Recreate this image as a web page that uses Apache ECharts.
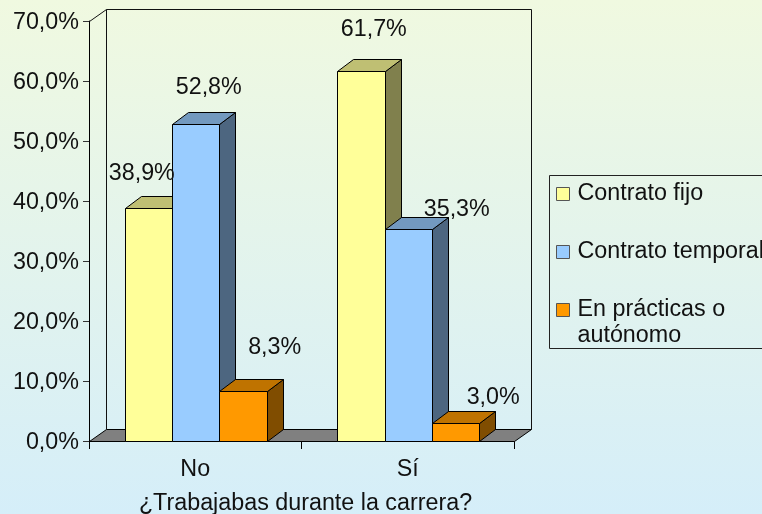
<!DOCTYPE html>
<html><head><meta charset="utf-8">
<style>html,body{margin:0;padding:0;overflow:hidden}#c{width:762px;height:514px}</style>
<script src="https://cdn.jsdelivr.net/npm/echarts@6/dist/echarts.min.js"></script>
</head><body><div id="c"></div>
<script>
const categories = ['No', 'Sí'];
const seriesNames = ['Contrato fijo', 'Contrato temporal', 'En prácticas o autónomo'];
const contratoFijo = [38.9, 61.7];
const contratoTemporal = [52.8, 35.3];
const enPracticas = [8.3, 3.0];
const yTicksMax = 70;
const axisTitle = '¿Trabajabas durante la carrera?';

// layout / style (not data)
const FONT = '"Liberation Sans", Arial, sans-serif';
const FS = 23.3;
const DX = 16, DY = 12;
const GROUP = 0.67;
const faces = [
  {front:'#FFFF99', top:'#BFBF73', side:'#80804D'},
  {front:'#99CCFF', top:'#7399BF', side:'#4D6680'},
  {front:'#FF9900', top:'#BF7300', side:'#804D00'}
];
const labelNudge = [
  [[-6.5,-34],[13,-36.5],[31.5,-44]],
  [[13,-41],[48.5,-20],[37.5,-25.5]]
];
const pct = v => v.toFixed(1).replace('.', ',') + '%';
const snap = v => Math.round(v) + 0.5;
const allValues = [contratoFijo, contratoTemporal, enPracticas];

function barBox(api, cat, val, s){
  const p = api.coord([cat, val]);
  const base = api.coord([cat, 0]);
  const band = api.size([1, 0])[0];
  const w = band * GROUP / 3;
  const x0 = p[0] + 0.5 - band * GROUP / 2 + s * w;
  return {l:snap(x0), r:snap(x0 + w), t:snap(p[1]), b:snap(base[1]), cx:x0 + w/2, top:p[1]};
}
function barRender(s){
  return function(params, api){
    const b = barBox(api, api.value(0), api.value(1), s);
    const line = {stroke:'#000', lineWidth:1};
    const f = faces[s];
    return {type:'group', children:[
      {type:'polygon', shape:{points:[[b.r,b.b],[b.r+DX,b.b-DY],[b.r+DX,b.t-DY],[b.r,b.t]]}, style:Object.assign({fill:f.side}, line)},
      {type:'polygon', shape:{points:[[b.l,b.t],[b.l+DX,b.t-DY],[b.r+DX,b.t-DY],[b.r,b.t]]}, style:Object.assign({fill:f.top}, line)},
      {type:'polygon', shape:{points:[[b.l,b.t],[b.r,b.t],[b.r,b.b],[b.l,b.b]]}, style:Object.assign({fill:f.front}, line)}
    ]};
  };
}
function wallRender(params, api){
  const g = params.coordSys;
  const l = snap(g.x), r = snap(g.x + g.width), t = snap(g.y), b = snap(g.y + g.height);
  const line = {stroke:'#111', lineWidth:1, fill:null};
  return {type:'group', children:[
    {type:'polygon', shape:{points:[[l,b],[l+DX+1,b-DY],[r+DX+1,b-DY],[r,b]]}, style:{fill:'#808080', stroke:'#000', lineWidth:1}},
    {type:'polyline', shape:{points:[[l,t],[l+DX+1,t-DY],[r+DX+1,t-DY],[r+DX+1,b-DY]]}, style:line},
    {type:'line', shape:{x1:l+DX+1,y1:t-DY,x2:l+DX+1,y2:b-DY}, style:line}
  ]};
}
function labelRender(params, api){
  const cat = api.value(0), val = api.value(1), s = api.value(2);
  const b = barBox(api, cat, val, s);
  const n = labelNudge[cat][s];
  return {type:'text', style:{x:b.cx + n[0], y:b.top + n[1], text:pct(val), fill:'#111',
    font:FS + 'px ' + FONT, textAlign:'center', textVerticalAlign:'middle'}};
}
const barSeries = allValues.map((vals, s) => ({
  type:'custom', name:seriesNames[s], coordinateSystem:'cartesian2d', renderItem:barRender(s),
  encode:{x:0, y:1}, itemStyle:{color:faces[s].front}, silent:true,
  data:vals.map((v, c) => [c, v])
}));
const labelData = [];
allValues.forEach((vals, s) => vals.forEach((v, c) => labelData.push([c, v, s])));

const chart = echarts.init(document.getElementById('c'), null, {renderer:'canvas'});
chart.setOption({
  animation:false,
  backgroundColor:{type:'linear', x:0, y:0, x2:0, y2:1, colorStops:[
    {offset:0, color:'#F0F9E0'}, {offset:1, color:'#D5EEF9'}]},
  textStyle:{fontFamily:FONT},
  grid:{left:89, right:248, top:21, bottom:73, containLabel:false, outerBoundsMode:'none'},
  xAxis:{type:'category', data:categories, boundaryGap:true,
    axisLine:{show:false},
    axisTick:{show:true, length:8, alignWithLabel:false, lineStyle:{color:'#000'}},
    axisLabel:{color:'#111', fontSize:FS, fontFamily:FONT, margin:17},
    name:axisTitle, nameLocation:'middle', nameGap:51,
    nameTextStyle:{color:'#111', fontSize:FS, fontFamily:FONT, padding:[0,0,0,8]}},
  yAxis:{type:'value', min:0, max:yTicksMax, interval:10, splitLine:{show:false},
    axisLine:{show:true, lineStyle:{color:'#000'}},
    axisTick:{show:true, length:6, lineStyle:{color:'#333'}},
    axisLabel:{color:'#111', fontSize:FS, fontFamily:FONT, margin:10, verticalAlign:'top', lineHeight:4, formatter:v => pct(v)}},
  legend:{orient:'vertical', left:556, top:155, padding:0, icon:'rect', itemWidth:13, itemHeight:13,
    itemGap:-20, selectedMode:false, data:seriesNames,
    itemStyle:{borderColor:'#555', borderWidth:1},
    textStyle:{color:'#111', fontSize:FS, fontFamily:FONT, lineHeight:26, padding:[0,0,0,3]},
    formatter:name => name === seriesNames[2] ? '\nEn prácticas o\nautónomo' : '\n' + name + '\n'},
  graphic:[{type:'rect', silent:true, z:-1, shape:{x:549.5, y:175.5, width:240, height:173},
    style:{fill:'none', stroke:'#222', lineWidth:1}}],
  series:[
    {type:'custom', name:'wall', coordinateSystem:'cartesian2d', renderItem:wallRender, silent:true, data:[[0,0]], encode:{x:0,y:1}, z:1},
    ...barSeries.map(s => Object.assign(s, {z:2})),
    {type:'custom', name:'labels', coordinateSystem:'cartesian2d', renderItem:labelRender, silent:true, data:labelData, encode:{x:0,y:1}, z:5}
  ]
});
</script></body></html>
